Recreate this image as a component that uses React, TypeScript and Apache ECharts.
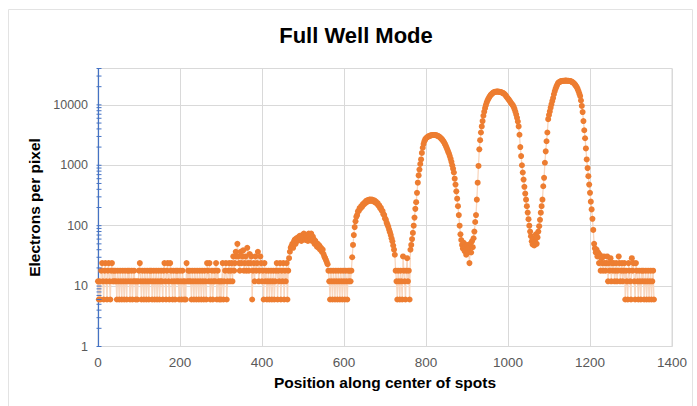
import React, { useEffect, useRef } from "react";
import * as echarts from "echarts";

// ---- axis settings ----
const xMin = 0;
const xMax = 1400;
const xInterval = 200;
const yMin = 1;
const yMax = 40000;

const chartTitle = "Full Well Mode";
const xTitle = "Position along center of spots";
const yTitle = "Electrons per pixel";

// sampling step along the position axis
const X_STEP = 2;

// ---- series values (electrons per pixel) ----
const floorLeftStart = 0;
const floorLeft = [
  12, 6, 12, 6, 18, 24, 12, 6, 18, 24,
  12, 6, 18, 24, 12, 6, 18, 24, 12, 18,
  12, 18, 12, 6, 18, 12, 6, 18, 12, 6,
  18, 12, 6, 18, 12, 6, 18, 12, 18, 6,
  12, 18, 6, 12, 18, 12, 6, 12, 6, 12,
  18, 24, 12, 6, 18, 12, 6, 18, 12, 6,
  18, 12, 6, 18, 12, 18, 6, 12, 18, 6,
  12, 18, 6, 12, 18, 6, 12, 18, 12, 6,
  18, 24, 12, 6, 18, 24, 12, 6, 24, 18,
  12, 6, 18, 12, 6, 18, 12, 18, 12, 6,
  18, 12, 6, 18, 12, 6, 12, 6, 24, 12,
  18, 12, 18, 12, 6, 18, 12, 6, 18, 12,
  6, 18, 12, 6, 18, 12, 6, 18, 12, 6,
  18, 12, 6, 24, 18, 12, 24, 6, 12, 18,
  6, 12, 18, 12, 24, 6, 18, 12, 6, 12,
  6, 12, 24, 6, 12, 18, 24, 6, 12, 18,
];

const bumpStart = 320;
const bump = [
  24, 12, 18, 24, 12, 31, 18, 24, 37, 31,
  50, 31, 24, 18, 37, 24, 31, 39, 18, 24,
  31, 18, 43, 24, 18, 34, 24, 31, 6, 18,
  24, 12, 31, 18, 24, 37, 12, 18, 31, 24,
  12, 18, 6, 24, 12, 18, 6, 12, 18, 6,
  12, 18, 6, 12, 18, 6, 12, 18, 24, 6,
  18, 12, 24, 6, 18, 12, 24, 6, 18, 12,
  24, 6, 18,
];

const peakAStart = 466;
const peakA = [
  29, 37, 43, 46, 50, 43, 55, 59, 50, 62,
  56, 64, 58, 68, 62, 56, 70, 62, 74, 64,
  58, 68, 62, 56, 74, 66, 60, 74, 56, 66,
  60, 50, 56, 52, 45, 50, 43, 47, 40, 43,
  37, 40, 34, 31, 29, 27, 25, 23,
];

const floorBStart = 562;
const floorB = [
  18, 12, 6, 18, 12, 6, 18, 12, 6, 18,
  12, 6, 18, 12, 6, 18, 12, 6, 18, 12,
  6, 18, 12, 6, 18, 12, 18, 12, 18,
];

const peakBStart = 620;
const peakB = [
  30, 48, 70, 95, 118, 140, 150, 172, 175, 195,
  192, 210, 205, 228, 222, 242, 236, 258, 248, 266,
  255, 270, 258, 272, 260, 268, 252, 262, 244, 250,
  232, 236, 215, 218, 196, 198, 178, 175, 155, 150,
  132, 126, 112, 104, 96, 86, 78, 70, 62, 55,
  47, 40, 33,
];

const floorCStart = 726;
const floorC = [
  18, 12, 6, 18, 12, 6, 18, 12, 6, 31,
  18, 12, 6, 18, 29, 12, 18, 6,
];

const peakCStart = 762;
const peakC = [
  40, 48, 60, 76, 100, 136, 190, 245, 350, 515,
  680, 850, 1050, 1250, 1600, 1950, 2250, 2500, 2680, 2800,
  2880, 2950, 3000, 3050, 3100, 3120, 3150, 3170, 3180, 3180,
  3170, 3150, 3120, 3080, 3030, 2970, 2900, 2820, 2730, 2630,
  2520, 2400, 2260, 2120, 1970, 1820, 1680, 1560, 1420, 1280,
  1140, 1000, 880, 760, 600, 480, 370, 280, 210, 150,
  100, 72, 58, 48, 42,
];

const dipCStart = 892;
const dipC = [52, 38, 45, 33, 48, 36, 42, 24, 50, 36, 55, 44];

const peakDStart = 916;
const peakD = [
  62, 80, 115, 150, 270, 515, 975, 1840, 2600, 3490,
  4400, 5400, 6600, 7700, 8800, 9900, 10900, 11800, 12600, 13300,
  14000, 14600, 15100, 15500, 15900, 16200, 16400, 16500, 16600, 16600,
  16600, 16500, 16400, 16300, 16100, 15900, 15700, 15400, 15000, 14400,
  13800, 13200, 12700, 12200, 11700, 11100, 10600, 10200, 9800, 9200,
  8500, 7700, 6900, 6100, 5300, 4400, 3200, 2000, 1420, 1000,
  760, 580, 440, 340, 270, 210, 165, 128, 100, 80,
  67, 55,
];

const dipDStart = 1060;
const dipD = [49, 60, 47, 55, 72, 50, 64, 80, 98];

const peakEStart = 1078;
const peakE = [
  125, 164, 210, 270, 450, 620, 1100, 1700, 2500, 3490,
  5800, 6800, 7800, 9000, 10200, 11600, 13000, 15000, 16800, 18500,
  20000, 21500, 23000, 23500, 24000, 24400, 24700, 24900, 25000, 25100,
  25100, 25200, 25200, 25100, 25100, 25000, 24900, 24700, 24400, 24000,
  23500, 23000, 22300, 21400, 20400, 19500, 18200, 16800, 15300, 14000,
  11800, 9600, 7600, 5400, 3800, 2800, 1900, 1250, 900, 660,
  480, 350, 250, 186, 130, 85,
];

const tailStart = 1210;
const tail = [
  50, 42, 36, 40, 31, 36, 24, 33, 18, 29,
  24, 18, 31, 24, 18, 24, 31, 12, 24, 18,
  29, 12, 24, 18, 24, 12, 18, 24, 12, 18,
  31, 24, 12, 18, 24, 12, 18, 24, 6, 18,
  12, 6, 24, 18, 12, 6, 29, 18, 24, 12,
  6, 24, 18, 12, 6, 18, 12, 6, 18, 12,
  18, 6, 12, 18, 6, 12, 18, 6, 12, 18,
  6, 12, 18, 6,
];

const segments: { start: number; values: number[] }[] = [
  { start: floorLeftStart, values: floorLeft },
  { start: bumpStart, values: bump },
  { start: peakAStart, values: peakA },
  { start: floorBStart, values: floorB },
  { start: peakBStart, values: peakB },
  { start: floorCStart, values: floorC },
  { start: peakCStart, values: peakC },
  { start: dipCStart, values: dipC },
  { start: peakDStart, values: peakD },
  { start: dipDStart, values: dipD },
  { start: peakEStart, values: peakE },
  { start: tailStart, values: tail },
];

function buildData(): [number, number][] {
  const out: [number, number][] = [];
  segments.forEach((s) => {
    s.values.forEach((v, i) => out.push([s.start + i * X_STEP, v]));
  });
  return out;
}

const FONT = "'Liberation Sans', Arial, sans-serif";
const ORANGE = "#ED7D31";
const GRID_GRAY = "#d9d9d9";
const AXIS_BLUE = "#4472C4";

export default function App() {
  const ref = useRef<HTMLDivElement>(null);

  useEffect(() => {
    if (!ref.current) return;
    const chart = echarts.init(ref.current, null, { renderer: "svg" });

    const baseGraphic: any[] = [
      {
        type: "rect",
        shape: { x: 8.5, y: 9.5, width: 684, height: 420 },
        style: { fill: "none", stroke: "#e3e3e3", lineWidth: 1 },
        silent: true,
        z: 0,
      },
      {
        type: "text",
        x: 356,
        y: 35,
        style: {
          text: chartTitle,
          fill: "#000",
          font: `bold 22px ${FONT}`,
          align: "center",
          verticalAlign: "middle",
        },
        silent: true,
        z: 10,
      },
    ];

    const option: any = {
      animation: false,
      backgroundColor: "#ffffff",
      textStyle: { fontFamily: FONT },
      grid: {
        left: 98,
        right: 25,
        top: 68.5,
        bottom: 59.5,
        show: true,
        borderColor: GRID_GRAY,
        borderWidth: 1,
        backgroundColor: "transparent",
      },
      xAxis: {
        type: "value",
        min: xMin,
        max: xMax,
        interval: xInterval,
        name: xTitle,
        nameLocation: "middle",
        nameGap: 28,
        nameTextStyle: { fontSize: 15.5, fontWeight: "bold", color: "#000", fontFamily: FONT },
        axisLine: { onZero: false, lineStyle: { color: GRID_GRAY, width: 1 } },
        axisTick: { show: false },
        splitLine: { show: true, lineStyle: { color: GRID_GRAY, width: 1 } },
        axisLabel: {
          color: "#595959",
          fontSize: 13.5,
          margin: 9,
          fontFamily: FONT,
          formatter: (v: number) => String(v),
        },
      },
      yAxis: {
        type: "log",
        logBase: 10,
        min: yMin,
        max: yMax,
        name: yTitle,
        nameLocation: "middle",
        nameRotate: 90,
        nameGap: 51,
        nameTextStyle: { fontSize: 15.5, fontWeight: "bold", color: "#000", fontFamily: FONT },
        axisLine: { show: true, onZero: false, lineStyle: { color: AXIS_BLUE, width: 1.2 } },
        axisTick: { show: false },
        minorTick: { show: false },
        splitLine: { show: true, lineStyle: { color: GRID_GRAY, width: 1 } },
        axisLabel: {
          color: "#595959",
          fontSize: 12.5,
          margin: 10,
          fontFamily: FONT,
          formatter: (v: number) => {
            const l = Math.log10(v);
            return Math.abs(l - Math.round(l)) < 1e-6 ? String(Math.round(v)) : "";
          },
        },
      },
      series: [
        {
          type: "line",
          data: buildData(),
          symbol: "circle",
          symbolSize: 6,
          showSymbol: true,
          showAllSymbol: true,
          itemStyle: { color: ORANGE, borderWidth: 0 },
          lineStyle: { color: "#F9D6BE", width: 1.3 },
          emphasis: { disabled: true },
          z: 3,
        },
      ],
      graphic: baseGraphic,
    };

    chart.setOption(option);

    // log minor ticks on the y axis, placed through the axis scale
    const x0 = chart.convertToPixel({ xAxisIndex: 0 }, xMin) as number;
    const tickEls: any[] = [];
    for (let d = 1; d <= yMax; d *= 10) {
      for (let m = 1; m <= 9; m++) {
        const v = m * d;
        if (v > yMax) break;
        const y = chart.convertToPixel({ yAxisIndex: 0 }, v) as number;
        tickEls.push({
          type: "line",
          shape: { x1: x0 - 1.5, y1: y, x2: x0 + 3.5, y2: y },
          style: { stroke: AXIS_BLUE, lineWidth: 1 },
          silent: true,
          z: 20,
        });
      }
    }
    chart.setOption({ graphic: [...baseGraphic, ...tickEls] });

    return () => chart.dispose();
  }, []);

  return (
    <div
      ref={ref}
      style={{ position: "fixed", left: 0, top: 0, width: 697, height: 406, background: "#fff" }}
    />
  );
}
